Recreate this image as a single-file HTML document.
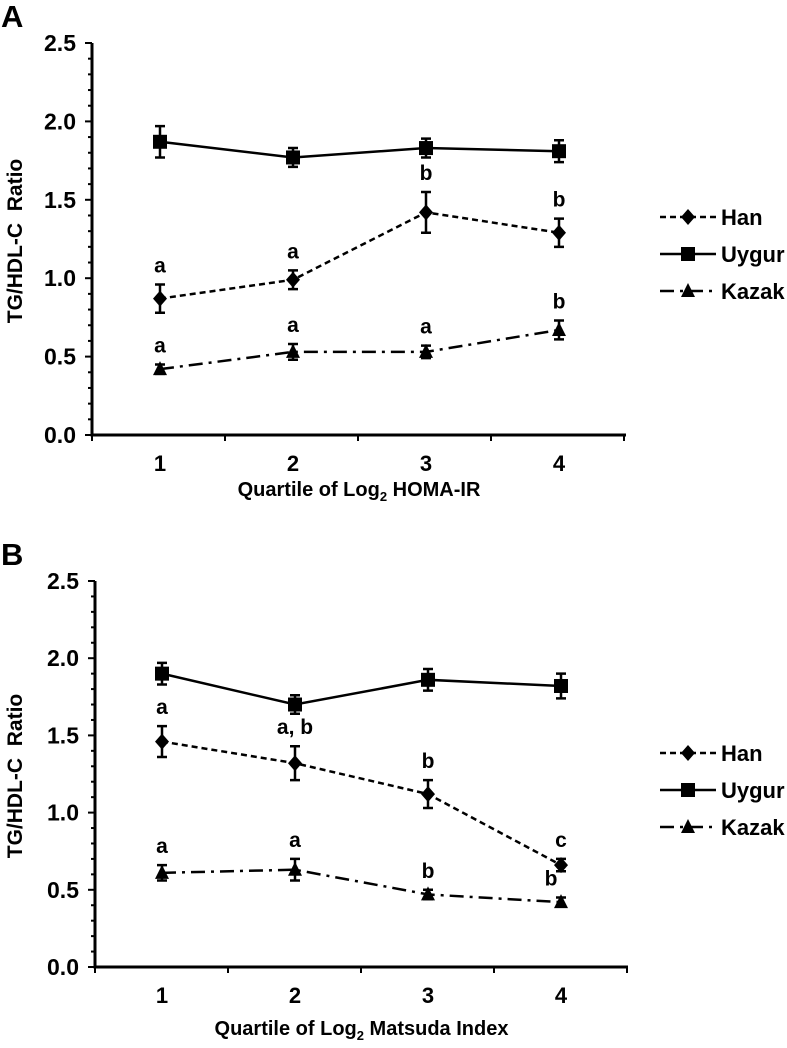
<!DOCTYPE html>
<html><head><meta charset="utf-8"><style>
body{margin:0;background:#fff;}
svg{display:block;font-family:"Liberation Sans",Arial,sans-serif;font-weight:bold;}
text{white-space:pre;}
</style></head><body>
<svg id="fig" width="787" height="1048" viewBox="0 0 787 1048"></svg>
<script>
const categories = [1, 2, 3, 4];
const yTicks = [0.0, 0.5, 1.0, 1.5, 2.0, 2.5];
const seriesNames = ["Han", "Uygur", "Kazak"];
// Panel A
const hanA = [0.87, 0.99, 1.42, 1.29];
const hanAErr = [0.09, 0.06, 0.13, 0.09];
const uygurA = [1.87, 1.77, 1.83, 1.81];
const uygurAErr = [0.10, 0.06, 0.06, 0.07];
const kazakA = [0.42, 0.53, 0.53, 0.67];
const kazakAErr = [0.03, 0.05, 0.04, 0.06];
const hanALetters = ["a", "a", "b", "b"];
const kazakALetters = ["a", "a", "a", "b"];
// Panel B
const hanB = [1.46, 1.32, 1.12, 0.66];
const hanBErr = [0.10, 0.11, 0.09, 0.04];
const uygurB = [1.90, 1.70, 1.86, 1.82];
const uygurBErr = [0.07, 0.06, 0.07, 0.08];
const kazakB = [0.61, 0.63, 0.47, 0.42];
const kazakBErr = [0.05, 0.07, 0.03, 0.03];
const hanBLetters = ["a", "a, b", "b", "c"];
const kazakBLetters = ["a", "a", "b", "b"];

const NS = "http://www.w3.org/2000/svg";
const svg = document.getElementById("fig");
function el(tag, attrs, parent) {
  const e = document.createElementNS(NS, tag);
  for (const k in attrs) e.setAttribute(k, attrs[k]);
  (parent || svg).appendChild(e);
  return e;
}
const dashes = {Han: "6,4", Uygur: "", Kazak: "14,6,3,6"};

function panel(cfg) {
  const g = el("g", {});
  
  
  const x0 = cfg.axisX, y0 = cfg.y0, yTop = cfg.yTop, xEnd = cfg.xEnd;
  const yS = v => y0 - (v / 2.5) * (y0 - yTop);
  const step = (cfg.cat4 - cfg.cat1) / 3;
  const xS = c => cfg.cat1 + (c - 1) * step;

  const pl = el("text", {x: 1, y: cfg.yTop - 16, "font-size": 31}, g);
  pl.textContent = cfg.letter;
  
  

  const ax = el("path", {d: `M${x0},${yTop} L${x0},${y0} L${xEnd},${y0}`, stroke: "#000", "stroke-width": 3, fill: "none"}, g);
  
  
  for (let i = 0; i <= 25; i++) {
    const v = i / 10, y = yS(v);
    el("line", {x1: x0 - (i % 5 === 0 ? 7 : 4), x2: x0, y1: y, y2: y, stroke: "#000", "stroke-width": 2}, g);
  }
  yTicks.forEach(v => {
    const t = el("text", {x: x0 - 16, y: yS(v) + 8, "font-size": 23, "text-anchor": "end"}, g);
    t.textContent = v.toFixed(1);
    
    
  });
  for (let i = 0; i <= 4; i++) {
    const x = x0 + i * step;
    el("line", {x1: x, x2: x, y1: y0, y2: y0 + 6, stroke: "#000", "stroke-width": 2}, g);
  }
  categories.forEach(c => {
    const t = el("text", {x: xS(c), y: y0 + 36, "font-size": 22, "text-anchor": "middle"}, g);
    t.textContent = c;
    
    
  });
  const xt = el("text", {x: (x0 + xEnd) / 2, y: y0 + cfg.xTitleDy, "font-size": 20, "text-anchor": "middle"}, g);
  xt.innerHTML = cfg.xTitle[0] + '<tspan font-size="13" dy="5">2</tspan><tspan dy="-5"> ' + cfg.xTitle[1] + '</tspan>';
  
  
  const ymid = (yTop + y0) / 2 + 2;
  const yt = el("text", {x: 22, y: ymid, "font-size": 21, "text-anchor": "middle", transform: `rotate(-90 22 ${ymid})`}, g);
  yt.textContent = "TG/HDL-C  Ratio";
  
  

  const data = [["Han", cfg.han, cfg.hanErr], ["Uygur", cfg.uy, cfg.uyErr], ["Kazak", cfg.kz, cfg.kzErr]];
  data.forEach(([name, vals, errs]) => {
    const sg = el("g", {}, g);
    
    
    const d = vals.map((v, i) => (i ? "L" : "M") + xS(categories[i]) + "," + yS(v)).join(" ");
    el("path", {d, stroke: "#000", "stroke-width": 2.5, fill: "none", "stroke-dasharray": dashes[name]}, sg);
    vals.forEach((v, i) => {
      const x = xS(categories[i]), yh = yS(v + errs[i]), yl = yS(v - errs[i]);
      el("path", {d: `M${x},${yh} L${x},${yl} M${x - 5},${yh} L${x + 5},${yh} M${x - 5},${yl} L${x + 5},${yl}`, stroke: "#000", "stroke-width": 2.5, fill: "none"}, sg);
      marker(sg, name, x, yS(v));
    });
  });
  [[cfg.han, cfg.hanErr, cfg.hanL, 0], [cfg.kz, cfg.kzErr, cfg.kzL, 1]].forEach(([vals, errs, L, k]) => {
    vals.forEach((v, i) => {
      const t = el("text", {x: xS(categories[i]) + (cfg.letterDx[k][i] || 0), y: yS(v + errs[i]) - 12, "font-size": 21, "text-anchor": "middle"}, g);
      t.textContent = L[i];
      
      
    });
  });
  const lg = el("g", {}, g);
  
  
  seriesNames.forEach((n, i) => {
    const y = cfg.legY + i * 37;
    const e = el("g", {}, lg);
    
    
    el("line", {x1: 660, x2: 716, y1: y, y2: y, stroke: "#000", "stroke-width": 2.5, "stroke-dasharray": dashes[n]}, e);
    marker(e, n, 688, y);
    const t = el("text", {x: 721, y: y + 8, "font-size": 22}, e);
    t.textContent = n;
  });
}
function marker(p, name, x, y) {
  if (name === "Han") el("path", {d: `M${x},${y - 8} L${x + 7},${y} L${x},${y + 8} L${x - 7},${y} Z`, fill: "#000"}, p);
  else if (name === "Uygur") el("rect", {x: x - 7, y: y - 7, width: 14, height: 14, fill: "#000"}, p);
  else el("path", {d: `M${x},${y - 8} L${x + 7},${y + 6} L${x - 7},${y + 6} Z`, fill: "#000"}, p);
}
panel({letter: "A", axisX: 92, yTop: 43, y0: 435, xEnd: 626, cat1: 160, cat4: 559, legY: 217, xTitleDy: 61,
  xTitle: ["Quartile of Log", "HOMA-IR"], han: hanA, hanErr: hanAErr, uy: uygurA, uyErr: uygurAErr,
  kz: kazakA, kzErr: kazakAErr, hanL: hanALetters, kzL: kazakALetters, letterDx: [[0,0,0,0],[0,0,0,0]]});
panel({letter: "B", axisX: 95, yTop: 581, y0: 967, xEnd: 628, cat1: 162, cat4: 561, legY: 753, xTitleDy: 68,
  xTitle: ["Quartile of Log", "Matsuda Index"], han: hanB, hanErr: hanBErr, uy: uygurB, uyErr: uygurBErr,
  kz: kazakB, kzErr: kazakBErr, hanL: hanBLetters, kzL: kazakBLetters, letterDx: [[0,0,0,0],[0,0,0,-10]]});
</script>
</body></html>
